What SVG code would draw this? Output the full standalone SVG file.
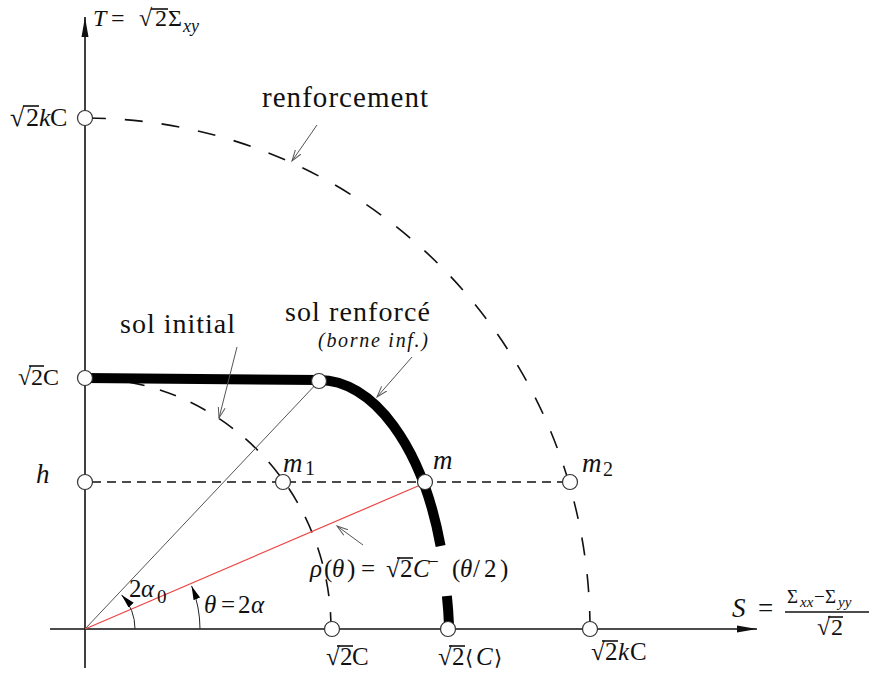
<svg xmlns="http://www.w3.org/2000/svg" width="872" height="675" viewBox="0 0 872 675">
<style>
.t{font-family:"Liberation Serif","DejaVu Serif",serif;fill:#111}
.i{font-style:italic}
.ax{stroke:#111;stroke-width:1.6;fill:none}
.ob{stroke:#111;stroke-width:1.6}
.pt{fill:#fff;stroke:#333;stroke-width:1.2}
.lead{stroke:#555;stroke-width:1;fill:none;marker-end:url(#open)}
.dash1{stroke:#111;stroke-width:1.6;fill:none;stroke-dasharray:17 16}
.dash2{stroke:#111;stroke-width:1.6;fill:none;stroke-dasharray:18 19}
.thick{stroke:#000;stroke-width:10;fill:none}
</style>
<defs>
<marker id="axarr" markerUnits="userSpaceOnUse" markerWidth="22" markerHeight="10" refX="20" refY="4" orient="auto"><path d="M0,0.5 L20,4 L0,7.5 z" fill="#111"/></marker>
<marker id="arc" markerUnits="userSpaceOnUse" markerWidth="16" markerHeight="10" refX="14" refY="3.5" orient="auto"><path d="M0,0 L14,3.5 L0,7 z" fill="#000"/></marker>
<marker id="open" markerUnits="userSpaceOnUse" markerWidth="14" markerHeight="10" refX="11" refY="4" orient="auto"><path d="M0,0.5 L11,4 L0,7.5" fill="none" stroke="#555" stroke-width="1"/></marker>
</defs>

<g id="axes">
<path class="ax" d="M85,668 L85,17" marker-end="url(#axarr)"/>
<path class="ax" d="M50,629 L757,629" marker-end="url(#axarr)"/>
</g>

<g id="curves">
<path class="dash2" d="M590,629 A505,511 0 0 0 85,118"/>
<path class="dash1" d="M331,629 A246,251 0 0 0 85,378"/>
<path stroke="#111" stroke-width="1.4" fill="none" stroke-dasharray="9 6" d="M92,482 L563,482"/>
<path stroke="#555" stroke-width="1" fill="none" d="M85,629 L319,381"/>
<path stroke="#ee4444" stroke-width="1.2" fill="none" d="M85,629 L425,483"/>
<path class="thick" d="M85,378 L319,380 A129,249 0 0 1 440.6,546"/>
<path class="thick" d="M446.9,596 A129,249 0 0 1 449,625"/>
</g>

<g id="connectors">
<path class="lead" d="M317,125 L292,161"/>
<path class="lead" d="M237,347 L219,418"/>
<path class="lead" d="M412,357 L377,397"/>
<path class="lead" d="M363,545 L337,526"/>
<path stroke="#222" stroke-width="1" fill="none" marker-end="url(#arc)" d="M135,629 A50,50 0 0 0 121.6,594.9"/>
<path stroke="#222" stroke-width="1" fill="none" marker-end="url(#arc)" d="M200,629 A115,115 0 0 0 191.6,585.9"/>
</g>

<g id="p-kC-T"><circle class="pt" cx="85" cy="118" r="7.5"/></g>
<g id="p-C-T"><circle class="pt" cx="85" cy="378" r="7.5"/></g>
<g id="p-h"><circle class="pt" cx="85" cy="482" r="7.5"/></g>
<g id="p-C-S"><circle class="pt" cx="332" cy="629" r="7.5"/></g>
<g id="p-Cm-S"><circle class="pt" cx="448" cy="629" r="7.5"/></g>
<g id="p-kC-S"><circle class="pt" cx="590" cy="629" r="7.5"/></g>
<g id="p-corner"><circle class="pt" cx="319" cy="381" r="7.5"/></g>
<g id="p-m1"><circle class="pt" cx="283" cy="482" r="7.5"/></g>
<g id="p-m"><circle class="pt" cx="425" cy="482" r="7.5"/></g>
<g id="p-m2"><circle class="pt" cx="570" cy="482" r="7.5"/></g>

<g id="labels">
<text class="t" y="26" font-size="24"><tspan x="93" class="i">T</tspan><tspan x="111">=</tspan><tspan x="139">√</tspan><tspan x="155">2</tspan><tspan x="168">Σ</tspan><tspan x="183" y="32" font-size="18" class="i">xy</tspan></text>
<line class="ob" x1="151" x2="168" y1="9" y2="9"/>

<text class="t" y="126" font-size="26"><tspan x="10">√</tspan><tspan x="26">2</tspan><tspan x="39" class="i">k</tspan><tspan x="50">C</tspan></text>
<line class="ob" x1="23" x2="39" y1="106" y2="106"/>

<text class="t" y="385" font-size="24"><tspan x="18">√</tspan><tspan x="31">2</tspan><tspan x="43">C</tspan></text>
<line class="ob" x1="29" x2="44" y1="366" y2="366"/>

<text class="t i" x="36" y="483" font-size="27">h</text>

<text class="t" x="262" y="107" font-size="29" textLength="166">renforcement</text>
<text class="t" x="120" y="333" font-size="28" textLength="115">sol initial</text>
<text class="t" x="285" y="321" font-size="28" textLength="145">sol renforcé</text>
<text class="t i" x="318" y="347" font-size="20" textLength="110">(borne inf.)</text>

<text class="t" y="472" font-size="27"><tspan x="283" class="i">m</tspan><tspan x="305" y="475" font-size="20">1</tspan></text>
<text class="t i" x="433" y="469" font-size="27">m</text>
<text class="t" y="472" font-size="27"><tspan x="582" class="i">m</tspan><tspan x="603" y="476" font-size="20">2</tspan></text>

<text class="t" y="577" font-size="25"><tspan x="310" class="i">ρ</tspan><tspan x="324">(</tspan><tspan x="332" class="i">θ</tspan><tspan x="347">)</tspan><tspan x="361">=</tspan><tspan x="386">√</tspan><tspan x="400">2</tspan><tspan x="413" class="i">C</tspan><tspan x="428" y="568" font-size="19">−</tspan><tspan x="452" y="577">(</tspan><tspan x="460" class="i">θ</tspan><tspan x="473">/</tspan><tspan x="484">2</tspan><tspan x="500">)</tspan></text>
<line class="ob" x1="397" x2="413" y1="558" y2="558"/>

<text class="t" y="597" font-size="25"><tspan x="129">2</tspan><tspan x="141" class="i">α</tspan><tspan x="157" y="603" font-size="19">0</tspan></text>
<text class="t" y="613" font-size="25"><tspan x="204" class="i">θ</tspan><tspan x="221">=</tspan><tspan x="238">2</tspan><tspan x="251" class="i">α</tspan></text>

<text class="t" y="665" font-size="25"><tspan x="326">√</tspan><tspan x="340">2</tspan><tspan x="352">C</tspan></text>
<line class="ob" x1="337" x2="353" y1="646" y2="646"/>
<text class="t" y="665" font-size="25"><tspan x="438">√</tspan><tspan x="452">2</tspan><tspan x="465" font-size="21">⟨</tspan><tspan x="476" class="i">C</tspan><tspan x="494" font-size="21">⟩</tspan></text>
<line class="ob" x1="449" x2="465" y1="646" y2="646"/>
<text class="t" y="660" font-size="25"><tspan x="591">√</tspan><tspan x="605">2</tspan><tspan x="618" class="i">k</tspan><tspan x="630">C</tspan></text>
<line class="ob" x1="602" x2="618" y1="641" y2="641"/>

<text class="t" y="617" font-size="27"><tspan x="732" class="i">S</tspan><tspan x="758">=</tspan></text>
<text class="t" y="603" font-size="19"><tspan x="787">Σ</tspan><tspan x="800" y="607" font-size="15" class="i">xx</tspan><tspan x="814" y="603">−</tspan><tspan x="825">Σ</tspan><tspan x="838" y="607" font-size="15" class="i">yy</tspan></text>
<line class="ob" x1="785" x2="869" y1="612" y2="612"/>
<text class="t" y="635" font-size="24"><tspan x="817">√</tspan><tspan x="831">2</tspan></text>
<line class="ob" x1="828" x2="843" y1="617" y2="617"/>
</g>
</svg>
